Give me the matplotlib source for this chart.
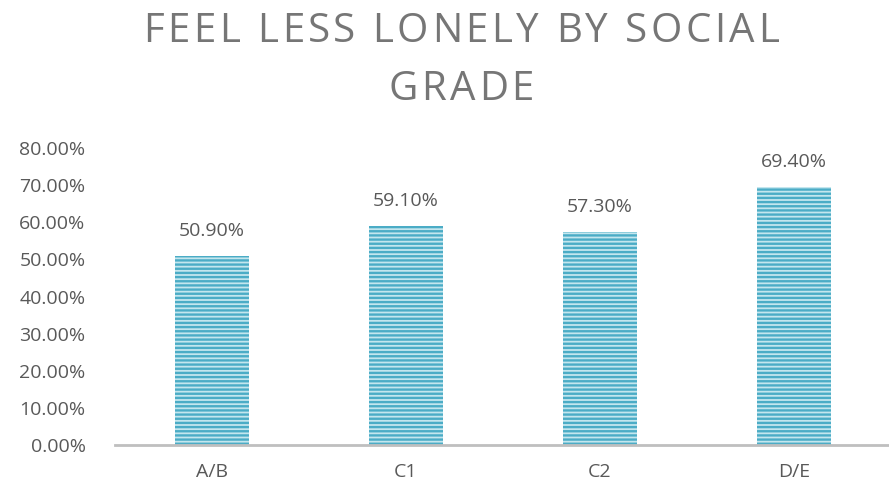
import matplotlib.pyplot as plt
from matplotlib.ticker import PercentFormatter

plt.rcParams['font.family'] = ['Open Sans', 'DejaVu Sans']
plt.rcParams['hatch.linewidth'] = 1.7
plt.rcParams['hatch.color'] = '#4BACC6'

grades = ['A/B', 'C1', 'C2', 'D/E']
less_lonely = [50.9, 59.1, 57.3, 69.4]
y_ticks = [0, 10, 20, 30, 40, 50, 60, 70, 80]
title_lines = ['FEEL LESS LONELY BY SOCIAL', 'GRADE']

fig = plt.figure(figsize=(8.89, 4.98), dpi=100)
ax = fig.add_axes([0.129, 0.1064, 0.873, 0.5964])

x = range(len(grades))
bars = ax.bar(x, less_lonely, width=0.38, color='#C4E6EE', hatch='----',
              edgecolor='#4BACC6', linewidth=0)

for xi, v in zip(x, less_lonely):
    ax.text(xi, v + 4.3, f'{v:.2f}%', ha='center', va='bottom',
            fontsize=14, color='#595959')

ax.set_xlim(-0.5, 3.5)
ax.set_ylim(0, 80)
ax.set_yticks(y_ticks)
ax.yaxis.set_major_formatter(PercentFormatter(decimals=2))
ax.set_xticks(list(x))
ax.set_xticklabels(grades)
ax.tick_params(axis='both', length=0, labelsize=14, colors='#595959')
ax.tick_params(axis='x', pad=13)
ax.tick_params(axis='y', pad=21)

for side in ['top', 'right', 'left']:
    ax.spines[side].set_visible(False)
ax.spines['bottom'].set_color('#BFBFBF')
ax.spines['bottom'].set_linewidth(2)


def spaced_text(y, s, size, tracking, center=461):
    # draw a centred line with extra letter spacing, one glyph at a time
    r = fig.canvas.get_renderer()
    widths = []
    for ch in s:
        t = fig.text(0, 0, ch if ch != ' ' else 'i', fontsize=size)
        widths.append(t.get_window_extent(r).width)
        t.remove()
    total = sum(widths) + tracking * (len(s) - 1)
    xpos = center - total / 2
    for ch, w in zip(s, widths):
        if ch != ' ':
            fig.text(xpos / fig.bbox.width, y, ch, fontsize=size,
                     color='#767676', ha='left', va='center')
        xpos += w + tracking


spaced_text(0.937, title_lines[0], 29, 3.5)
spaced_text(0.820, title_lines[1], 29, 3.5)

fig.savefig('out.png', dpi=100)
